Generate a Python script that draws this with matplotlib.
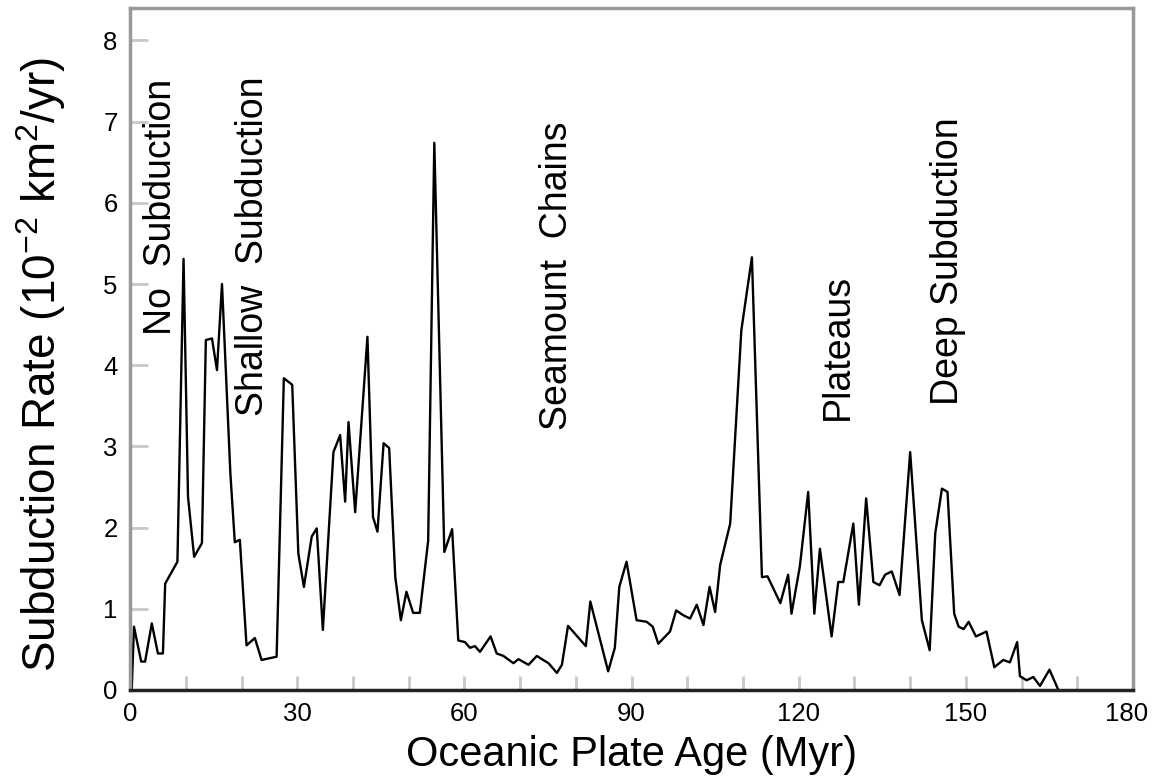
import matplotlib
matplotlib.use("Agg")
import matplotlib.pyplot as plt
from matplotlib.transforms import ScaledTranslation

# plate age (Myr) and subduction rate (10^-2 km^2/yr)
age = [0.3, 0.7, 2.0, 2.7, 3.9, 5.0, 5.9, 6.3, 8.5, 9.6, 10.4, 11.5, 12.9,
       13.6, 14.7, 15.6, 16.5, 18.0, 18.8, 19.7, 20.9, 22.4, 23.6, 26.3,
       27.6, 29.1, 30.2, 31.2, 32.6, 33.5, 34.6, 36.5, 37.7, 38.6, 39.2,
       40.4, 42.6, 43.6, 44.4, 45.5, 46.5, 47.6, 48.6, 49.6, 50.8, 52.0,
       53.5, 54.6, 56.4, 57.8, 58.9, 60.1, 61.0, 61.9, 62.8, 64.7, 65.8,
       67.0, 68.8, 69.7, 71.5, 73.0, 73.9, 75.1, 76.6, 77.5, 78.6, 81.8,
       82.6, 85.8, 87.0, 87.8, 89.1, 90.9, 92.7, 93.8, 94.8, 96.9, 98.0,
       99.3, 100.5, 101.7, 102.9, 104.0, 105.0, 105.9, 107.7, 109.7, 111.6,
       113.4, 114.4, 116.7, 118.1, 118.7, 120.2, 121.7, 122.8, 123.8, 125.9,
       127.1, 128.0, 129.8, 130.8, 132.1, 133.4, 134.5, 135.5, 136.7, 138.1,
       140.0, 142.1, 143.5, 144.5, 145.7, 146.7, 147.9, 148.7, 149.6, 150.5,
       151.8, 153.7, 155.1, 156.7, 157.9, 159.2, 159.7, 160.9, 162.1, 163.3,
       165.0, 166.6]
rate = [0.0, 0.78, 0.35, 0.35, 0.82, 0.45, 0.45, 1.31, 1.58, 5.31, 2.38, 1.64, 1.81,
        4.31, 4.33, 3.94, 5.0, 2.67, 1.82, 1.85, 0.55, 0.64, 0.37, 0.41,
        3.84, 3.76, 1.68, 1.27, 1.89, 1.99, 0.74, 2.93, 3.14, 2.32, 3.30,
        2.19, 4.35, 2.13, 1.95, 3.04, 2.98, 1.39, 0.86, 1.21, 0.95, 0.95,
        1.84, 6.74, 1.70, 1.98, 0.61, 0.59, 0.52, 0.54, 0.47, 0.66, 0.45,
        0.42, 0.33, 0.38, 0.31, 0.42, 0.38, 0.33, 0.21, 0.31, 0.79, 0.54,
        1.09, 0.23, 0.52, 1.27, 1.58, 0.86, 0.84, 0.78, 0.57, 0.72, 0.98,
        0.92, 0.88, 1.05, 0.80, 1.27, 0.96, 1.54, 2.05, 4.43, 5.33,
        1.39, 1.40, 1.07, 1.42, 0.94, 1.52, 2.44, 0.94, 1.74, 0.66,
        1.33, 1.33, 2.05, 1.05, 2.36, 1.33, 1.29, 1.42, 1.46, 1.17,
        2.93, 0.86, 0.49, 1.93, 2.48, 2.44, 0.94, 0.78, 0.75, 0.84,
        0.66, 0.72, 0.28, 0.37, 0.34, 0.59, 0.17, 0.12, 0.16, 0.05,
        0.25, 0.0]

labels = ["No  Subduction", "Shallow  Subduction", "Seamount  Chains",
          "Plateaus", "Deep Subduction"]
label_x = [5.6, 22.1, 76.6, 127.1, 146.8]
label_y = [4.37, 3.38, 3.2, 3.32, 3.51]

plt.rcParams['font.family'] = ['Liberation Sans', 'DejaVu Sans']
plt.rcParams['mathtext.fontset'] = 'custom'
plt.rcParams['mathtext.rm'] = 'Liberation Sans'

fig = plt.figure(figsize=(11.53, 7.84), dpi=100)
ax = fig.add_axes([0.1128, 0.1199, 0.8699, 0.8699])

ax.plot(age, rate, color='black', lw=1.7)

for t, x, y in zip(labels, label_x, label_y):
    ax.text(x, y, t, rotation=90, ha='center', va='bottom', fontsize=27)

ax.set_xlim(0, 180)
ax.set_ylim(0, 8.4)
ax.set_xticks(range(0, 181, 30))
ax.set_xticks(range(0, 181, 10), minor=True)
ax.set_yticks(range(0, 9))
ax.tick_params(axis='both', which='both', direction='in', length=10, width=2,
               color='#c8c8c8', labelsize=18.5, pad=9)
ax.tick_params(axis='y', length=13)

# last x label sits a little left so it stays inside the picture
last = ax.get_xticklabels()[-1]
last.set_transform(last.get_transform() + ScaledTranslation(-6 / 100, 0, fig.dpi_scale_trans))

for s in ['top', 'right', 'left']:
    ax.spines[s].set_color('#999999')
    ax.spines[s].set_linewidth(2.5)
ax.spines['bottom'].set_color('#222222')
ax.spines['bottom'].set_linewidth(2.5)

ax.set_xlabel("Oceanic Plate Age (Myr)", fontsize=30, labelpad=6)
ax.set_ylabel(r"Subduction Rate (10$^{-2}$ km$^{2}$/yr)", fontsize=33)
ax.yaxis.set_label_coords(-0.062, 0.478)

fig.savefig("out.png", dpi=100)
